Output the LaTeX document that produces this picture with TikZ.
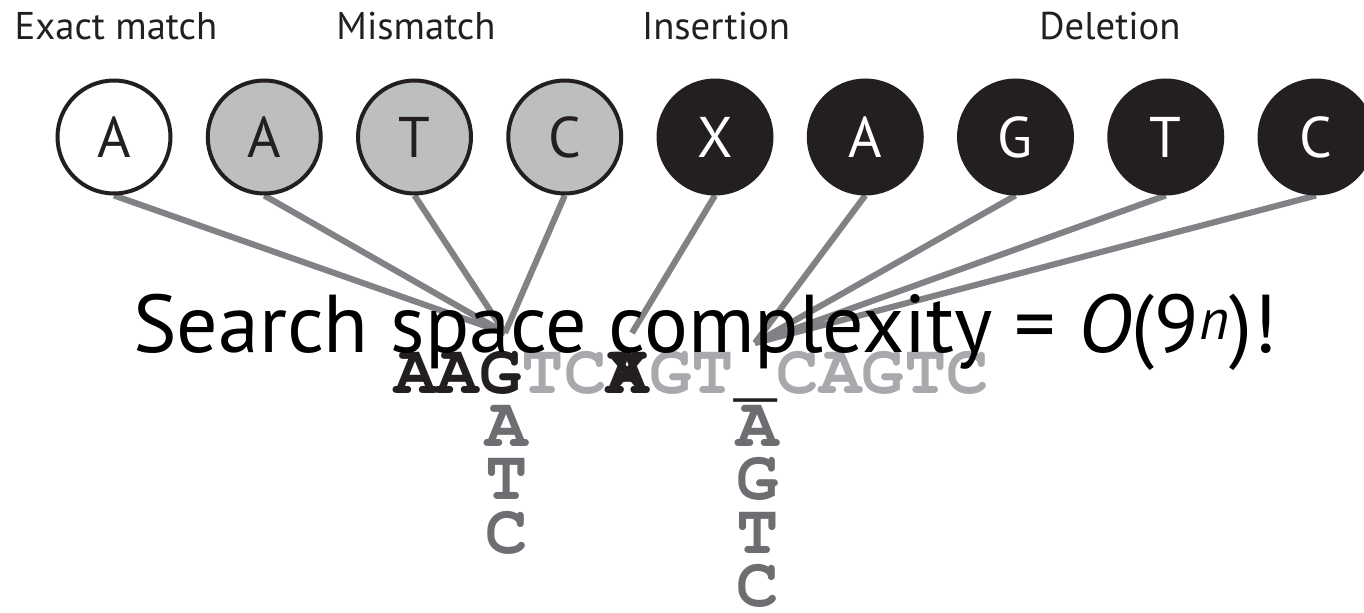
\documentclass[tikz,border=0pt]{standalone}
\usepackage[T1]{fontenc}
\usepackage{fontspec}
\setmainfont{PT Sans}
\usetikzlibrary{backgrounds}

\definecolor{ink}{HTML}{231F20}
\definecolor{wire}{HTML}{808285}
\definecolor{shade}{HTML}{BCBEC0}
\definecolor{faded}{HTML}{A7A9AC}
\definecolor{alt}{HTML}{6D6E71}

% bold courier for the read
\newcommand{\readfont}{\fontencoding{T1}\fontfamily{pcr}\fontseries{b}\fontsize{53}{53}\selectfont}

\begin{document}
\begin{tikzpicture}[x=0.75pt,y=-0.75pt,
    base/.style={circle,draw=ink,line width=3pt,minimum size=84.75pt,inner sep=0pt,
      font=\fontsize{43}{43}\selectfont},
    match/.style={base,fill=white,text=ink},
    mism/.style={base,fill=shade,text=ink},
    indel/.style={base,fill=ink,text=white},
    head/.style={anchor=base,inner sep=0pt,text=ink,font=\fontsize{29}{32}\selectfont},
    seq/.style={anchor=base,inner sep=0pt,font=\readfont},
    edge/.style={draw=wire,line width=4.6pt}]
  \useasboundingbox (0,0) rectangle (1364,613);

  % column headings
  \node[head] (hexact) at (116,40) {Exact match};
  \node[head] (hmis) at (416,40) {Mismatch};
  \node[head] (hins) at (716,40) {Insertion};
  \node[head] (hdel) at (1110,40) {Deletion};

  % the nine candidate bases
  \foreach \b/\kind [count=\i] in {A/match,A/mism,T/mism,C/mism,X/indel,A/indel,G/indel,T/indel,C/indel}
    \node[\kind] (c\i) at ({114+150.25*(\i-1)},137) {\b};

  % the read
  \foreach \ch/\col [count=\i] in {A/ink,A/ink,G/ink,T/faded,C/faded,A/ink,G/faded,T/faded,
      \_/ink,C/faded,A/faded,G/faded,T/faded,C/faded}
    \node[seq,text=\col] (s\i) at ({394+42.5*(\i-0.5)},393) {\ch};
  \node[seq,text=ink] (sx) at (s6.base) {X};

  % alternatives stacked under the read
  \foreach \ch [count=\j] in {A,T,C}
    \node[seq,text=alt] (m\j) at ([xshift=5pt,yshift=-\j*40pt]s3.base) {\ch};
  \foreach \ch [count=\j] in {A,G,T,C}
    \node[seq,text=alt] (d\j) at ([xshift=2pt,yshift=-\j*40pt]s9.base) {\ch};

  \coordinate (mis) at (505,333);
  \coordinate (ins) at (632,333);
  \coordinate (del) at (755,343);

  \begin{scope}[on background layer]
    \foreach \i in {1,...,4} \draw[edge] (c\i.south) -- (mis);
    \draw[edge] (c5.south) -- (ins);
    \foreach \i in {6,...,9} \draw[edge] (c\i.south) -- (del);
  \end{scope}

  \node[anchor=base west,inner sep=0pt,text=black,font=\fontsize{61.5}{62}\selectfont] (title)
    at (133,352) {Search space complexity = \textit{O}(9\textsuperscript{\textit{n}})!};
\end{tikzpicture}
\end{document}
